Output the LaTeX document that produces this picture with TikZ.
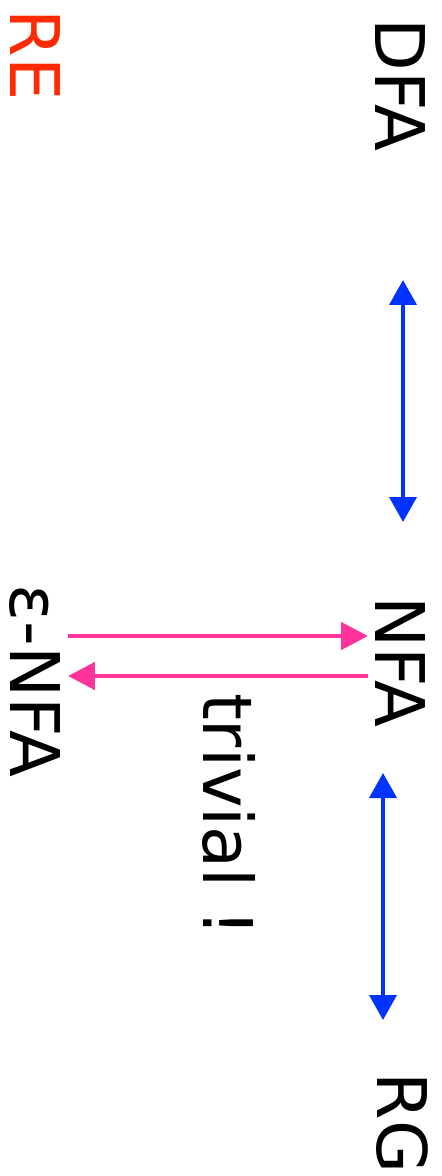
\documentclass[tikz,border=0pt]{standalone}
\usepackage{fontspec}
\setmainfont{DejaVu Sans}
\usetikzlibrary{arrows.meta}
\definecolor{rered}{RGB}{255,42,0}
\definecolor{convblue}{RGB}{0,51,255}
\definecolor{convpink}{RGB}{255,51,153}
\tikzset{
  lang/.style={rotate=-90, inner sep=0pt, font=\fontsize{39}{45}\selectfont, text=black},
  relbl/.style={lang, text=rered},
  eqv/.style={{Triangle[length=5mm,width=5.4mm]}-{Triangle[length=5mm,width=5.4mm]},
              line width=2.2pt, draw=convblue},
  conv/.style={-{Triangle[length=5.4mm,width=5.4mm]}, line width=2.8pt, draw=convpink},
}

\begin{document}
\begin{tikzpicture}[x=0.02cm, y=-0.02cm]
\useasboundingbox (0,0) rectangle (441,1176);

%% =====================================================================
%% the classes, each set on its side
%% =====================================================================
\node[relbl] (re)   at (35,55)    {RE};
\node[lang]  (dfa)  at (400,85)   {DFA};
\node[lang]  (nfa)  at (400,662)  {NFA};
\node[lang]  (enfa) at (35,681)   {ε-NFA};
\node[lang]  (rg)   at (402,1123) {RG};
\node[lang]  (triv) at (229,815)  {trivial !};

%% ends of the connectors
\coordinate (dfaE)  at (403,280);
\coordinate (nfaN)  at (403,522);
\coordinate (nfaS)  at (383,773);
\coordinate (rgN)   at (383,1020);
\coordinate (enfaT) at (68,636);
\coordinate (nfaT)  at (368,636);
\coordinate (enfaB) at (68,676);
\coordinate (nfaB)  at (368,676);

%% =====================================================================
%% equivalences and the two conversions
%% =====================================================================
\draw[eqv]  (dfaE) -- (nfaN);
\draw[eqv]  (nfaS) -- (rgN);
\draw[conv] (enfaT) -- (nfaT);
\draw[conv] (nfaB) -- (enfaB);

\end{tikzpicture}
\end{document}
